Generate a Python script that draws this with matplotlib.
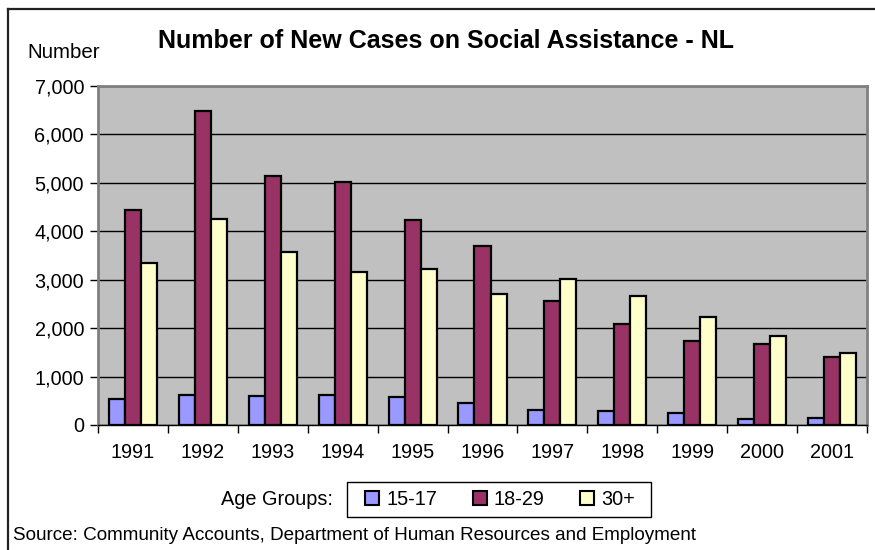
import matplotlib
matplotlib.use("Agg")
import matplotlib.pyplot as plt
import numpy as np
from matplotlib.lines import Line2D
from matplotlib.patches import Patch, Rectangle

years = ["1991", "1992", "1993", "1994", "1995", "1996", "1997", "1998", "1999", "2000", "2001"]
age_15_17 = [530, 625, 600, 625, 575, 455, 315, 290, 255, 130, 145]
age_18_29 = [4430, 6490, 5150, 5015, 4235, 3705, 2555, 2085, 1735, 1680, 1395]
age_30_plus = [3350, 4255, 3575, 3165, 3220, 2700, 3005, 2665, 2235, 1840, 1490]
series_names = ["15-17", "18-29", "30+"]
colors = ["#9999FF", "#993366", "#FFFFCC"]
yticks = [0, 1000, 2000, 3000, 4000, 5000, 6000, 7000]

plt.rcParams['font.family'] = ['Liberation Sans', 'DejaVu Sans']

W, H = 875, 550
fig = plt.figure(figsize=(W / 100, H / 100), dpi=100)
fig.patch.set_facecolor("white")

def fx(px):
    return px / W

def fy(py):
    return 1 - py / H

ax = fig.add_axes([fx(98), fy(425), fx(867) - fx(98), fy(86) - fy(425)])
ax.set_facecolor("#C0C0C0")

x = np.arange(len(years))
bw = 0.229
for i, (vals, c, name) in enumerate(zip([age_15_17, age_18_29, age_30_plus], colors, series_names)):
    ax.bar(x + (i - 1) * bw, vals, width=bw, color=c, edgecolor="black", linewidth=1.6,
           label=name, zorder=3)

ax.set_xlim(-0.5, len(years) - 0.5)
ax.set_ylim(0, 7000)
ax.set_yticks(yticks)
ax.set_yticklabels([f"{v:,}" for v in yticks])
ax.yaxis.grid(True, color="black", linewidth=1.0, zorder=1)
ax.set_axisbelow(True)

ax.set_xticks(x)
ax.set_xticklabels(years)
ax.set_xticks(np.arange(-0.5, len(years)), minor=True)
ax.tick_params(axis="x", which="major", length=0, pad=13, labelsize=14.3)
ax.tick_params(axis="x", which="minor", length=6, width=1, direction="out", color="black")
ax.tick_params(axis="y", length=6, width=1, direction="out", pad=4, labelsize=14.3)

for s in ["top", "right", "left"]:
    ax.spines[s].set_color("#808080")
    ax.spines[s].set_linewidth(2)
ax.spines["bottom"].set_color("black")
ax.spines["bottom"].set_linewidth(1)

fig.text(fx(446), fy(41), "Number of New Cases on Social Assistance - NL", ha="center", va="center",
         fontsize=18, fontweight="bold")
fig.text(fx(27), fy(53), "Number", ha="left", va="center", fontsize=14.8)
fig.text(fx(333), fy(499.5), "Age Groups:", ha="right", va="center", fontsize=14.3)
fig.text(fx(13), fy(535), "Source: Community Accounts, Department of Human Resources and Employment",
         ha="left", va="center", fontsize=13.6)

fig.add_artist(Rectangle((fx(347), fy(517)), fx(651) - fx(347), fy(482) - fy(517),
                         transform=fig.transFigure, facecolor="white", edgecolor="black",
                         linewidth=1.0, zorder=2))
handles = [Patch(facecolor=c, edgecolor="black", linewidth=1.5) for c in colors]
leg = fig.legend(handles, series_names, loc="center", bbox_to_anchor=(fx(500), fy(499.5)), ncol=3,
                 frameon=False, fontsize=14.3,
                 handlelength=0.7, handleheight=0.7, handletextpad=0.35, columnspacing=1.8,
                 borderpad=0.2, borderaxespad=0)
leg.set_zorder(3)

fig.add_artist(Line2D([fx(8), fx(8)], [fy(9), 0], transform=fig.transFigure, color="#222222", linewidth=1.6))
fig.add_artist(Line2D([fx(8), 1], [fy(9), fy(9)], transform=fig.transFigure, color="#222222", linewidth=1.6))

fig.savefig("out.png", dpi=100)
